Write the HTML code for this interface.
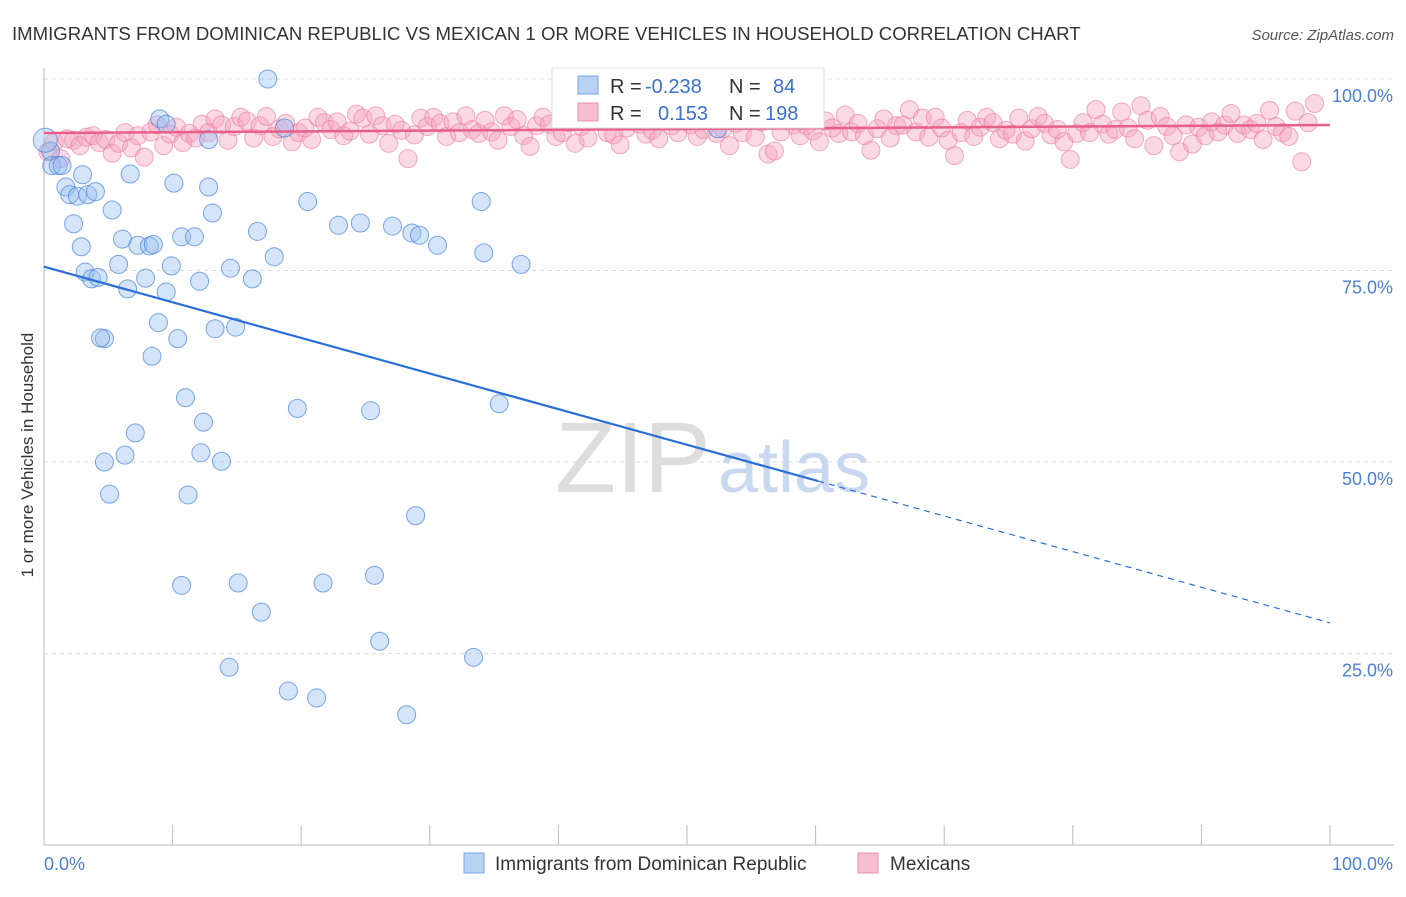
<!DOCTYPE html>
<html><head><meta charset="utf-8"><style>
body{margin:0;background:#fff;font-family:"Liberation Sans",sans-serif;}
svg text{font-family:"Liberation Sans",sans-serif;}
</style></head><body>
<svg id="chart" width="1406" height="892">
<text x="12" y="40" font-size="18.6" fill="#333">IMMIGRANTS FROM DOMINICAN REPUBLIC VS MEXICAN 1 OR MORE VEHICLES IN HOUSEHOLD CORRELATION CHART</text>
<text x="1394" y="40" font-size="15" fill="#555" text-anchor="end" font-style="italic">Source: ZipAtlas.com</text>
<text transform="translate(33,455) rotate(-90)" font-size="17" fill="#333" text-anchor="middle">1 or more Vehicles in Household</text>
<g id="grid"></g>
<text x="555" y="492" font-size="100" fill="#ddd" font-family="Liberation Serif">ZIP</text>
<text x="718" y="492" font-size="72" fill="#c8d8f0">atlas</text>
<g id="pts"></g>
<g id="lines"></g>
<g>
<rect x="552" y="68" width="272" height="60" fill="#fff" stroke="#ddd"/>
<rect x="578" y="76" width="20" height="18" fill="#b8d2f4" stroke="#7aa6e6"/>
<text x="610" y="93" font-size="20" fill="#333">R =</text>
<text x="645" y="93" font-size="20" fill="#3a70d0">-0.238</text>
<text x="729" y="93" font-size="20" fill="#333">N =</text>
<text x="773" y="93" font-size="20" fill="#3a70d0">84</text>
<rect x="578" y="103" width="20" height="18" fill="#f7bdd0" stroke="#ea8eae"/>
<text x="610" y="120" font-size="20" fill="#333">R =</text>
<text x="658" y="120" font-size="20" fill="#3a70d0">0.153</text>
<text x="729" y="120" font-size="20" fill="#333">N =</text>
<text x="765" y="120" font-size="20" fill="#3a70d0">198</text>
</g>
<g>
<rect x="464" y="853" width="20" height="20" fill="#b8d2f4" stroke="#7aa6e6"/>
<text x="495" y="870" font-size="19" fill="#333">Immigrants from Dominican Republic</text>
<rect x="858" y="853" width="20" height="20" fill="#f7bdd0" stroke="#ea8eae"/>
<text x="890" y="870" font-size="19" fill="#333">Mexicans</text>
</g>
</svg>
<script>
const yTicks=[100,75,50,25];
const yTickLabels=["100.0%","75.0%","50.0%","25.0%"];
const xEndLabels=["0.0%","100.0%"];
const blueX=[0.5,0.6,1.1,1.4,0.1,1.7,2.0,2.6,3.4,4.0,2.3,2.9,3.2,3.7,4.7,4.4,5.3,5.8,6.1,6.5,6.7,7.3,7.9,8.2,8.5,8.4,8.9,9.0,9.5,9.9,10.1,10.4,10.7,9.5,11.7,12.1,12.8,13.1,13.3,14.5,14.9,16.2,16.6,17.9,17.4,18.7,19.7,20.5,22.9,24.6,27.1,28.6,29.2,30.6,34.0,34.2,37.1,35.4,11.0,12.4,7.1,4.7,6.3,12.2,13.8,5.1,11.2,28.9,10.7,15.1,21.7,25.7,16.9,26.1,33.4,14.4,19.0,21.2,28.2,25.4,52.4,12.8,3.0,4.2];
const blueY=[90.6,88.7,88.7,88.7,92,85.9,84.9,84.7,84.9,85.3,81.1,78.1,74.8,73.9,66.1,66.2,82.9,75.8,79.1,72.6,87.6,78.3,74.0,78.2,78.4,63.8,68.2,94.8,94.1,75.6,86.4,66.1,79.4,72.2,79.4,73.6,85.9,82.5,67.4,75.3,67.6,73.9,80.1,76.8,100.0,93.6,57.0,84.0,80.9,81.2,80.8,79.9,79.6,78.3,84.0,77.3,75.8,57.6,58.4,55.2,53.8,50.0,50.9,51.2,50.1,45.8,45.7,43.0,33.9,34.2,34.2,35.2,30.4,26.6,24.5,23.2,20.1,19.2,17.0,56.7,93.5,92.1,87.5,74.1];
const pinkX=[0.3,0.8,1.3,1.8,2.3,2.8,3.3,3.8,4.3,4.8,5.3,5.8,6.3,6.8,7.3,7.8,8.3,8.8,9.3,9.8,
10.3,10.8,11.3,11.8,12.3,12.8,13.3,13.8,14.3,14.8,15.3,15.8,16.3,16.8,17.3,17.8,18.3,18.8,19.3,19.8,
20.3,20.8,21.3,21.8,22.3,22.8,23.3,23.8,24.3,24.8,25.3,25.8,26.3,26.8,27.3,27.8,28.3,28.8,29.3,29.8,
30.3,30.8,31.3,31.8,32.3,32.8,33.3,33.8,34.3,34.8,35.3,35.8,36.3,36.8,37.3,37.8,38.3,38.8,39.3,39.8,
40.3,40.8,41.3,41.8,42.3,42.8,43.3,43.8,44.3,44.8,45.3,45.8,46.3,46.8,47.3,47.8,48.3,48.8,49.3,49.8,
50.3,50.8,51.3,51.8,52.3,52.8,53.3,53.8,54.3,54.8,55.3,55.8,56.3,56.8,57.3,57.8,58.3,58.8,59.3,59.8,
60.3,60.8,61.3,61.8,62.3,62.8,63.3,63.8,64.3,64.8,65.3,65.8,66.3,66.8,67.3,67.8,68.3,68.8,69.3,69.8,
70.3,70.8,71.3,71.8,72.3,72.8,73.3,73.8,74.3,74.8,75.3,75.8,76.3,76.8,77.3,77.8,78.3,78.8,79.3,79.8,
80.3,80.8,81.3,81.8,82.3,82.8,83.3,83.8,84.3,84.8,85.3,85.8,86.3,86.8,87.3,87.8,88.3,88.8,89.3,89.8,
90.3,90.8,91.3,91.8,92.3,92.8,93.3,93.8,94.3,94.8,95.3,95.8,96.3,96.8,97.3,97.8,98.3,98.8];
const pinkY=[90.5,91.8,89.6,92.2,92.0,91.3,92.4,92.6,91.7,92.1,90.3,91.6,93.0,91.0,92.6,89.8,93.1,94.0,91.3,92.8,
93.7,91.7,92.9,92.3,94.1,93.0,94.8,94.0,92.0,93.8,95.0,94.5,92.3,93.9,95.1,92.5,93.5,94.2,91.8,93.0,
93.6,92.1,95.0,94.3,93.4,94.4,92.6,93.2,95.4,94.9,92.8,95.2,93.9,91.6,94.1,93.3,89.6,92.7,94.9,93.8,
95.0,94.2,92.5,94.4,93.0,95.2,93.4,92.9,94.6,93.1,92.0,95.2,93.8,94.7,92.6,91.2,93.9,95.0,94.1,92.5,
93.0,94.3,91.6,93.8,92.3,95.1,94.5,93.0,92.7,91.4,93.6,95.0,94.1,92.8,93.3,92.2,94.6,93.9,93.0,95.1,
94.0,92.5,93.4,94.8,92.9,93.5,91.3,94.2,93.0,95.0,92.4,94.4,90.2,90.6,93.1,95.0,94.0,92.6,93.9,93.2,
91.8,94.5,93.6,92.9,95.3,93.1,94.2,92.6,90.7,93.5,94.8,92.3,93.9,94.0,96.0,93.1,94.9,92.4,95.0,93.6,
92.0,90.0,93.0,94.6,92.5,93.7,95.0,94.3,92.2,93.3,92.8,94.9,91.9,93.5,95.1,94.2,92.7,93.4,91.8,89.5,
92.9,94.3,93.0,96.0,94.1,92.8,93.4,95.7,93.6,92.2,96.5,94.6,91.3,95.1,93.8,92.6,90.5,94.0,91.5,93.7,
92.6,94.4,93.1,94.0,95.5,92.9,94.0,93.4,94.2,92.1,95.9,93.8,93.0,92.5,95.8,89.2,94.3,96.8];
const X0=44,X1=1330,Y0=845,PX=(X1-X0)/100,PY=7.66;
const sx=v=>X0+v*PX, sy=v=>Y0-v*PY;
const NS="http://www.w3.org/2000/svg";
function mk(t,a,p){const e=document.createElementNS(NS,t);for(const k in a)e.setAttribute(k,a[k]);p.appendChild(e);return e;}
const grid=document.getElementById('grid');
yTicks.forEach((v,i)=>{
 const l=mk('line',{x1:X0,x2:1394,y1:sy(v),y2:sy(v),stroke:'#ddd','stroke-dasharray':'4,4'},grid);
 
 
 const t=mk('text',{x:1393,y:sy(v)+23,'font-size':18,fill:'#4a7fd4','text-anchor':'end'},grid);
 t.textContent=yTickLabels[i];
 
 
});
const ax=mk('line',{x1:X0,x2:X0,y1:68,y2:Y0,stroke:'#bbb'},grid);


const bx=mk('line',{x1:X0,x2:1394,y1:Y0,y2:Y0,stroke:'#bbb'},grid);


for(let i=1;i<=10;i++){
 const tk=mk('line',{x1:sx(i*10),x2:sx(i*10),y1:825,y2:Y0,stroke:'#bbb'},grid);
 
 
}
[[0,'start',X0],[1,'end',1393]].forEach(([i,a,x])=>{
 const t=mk('text',{x:x,y:870,'font-size':18,fill:'#4a7fd4','text-anchor':a},grid);
 t.textContent=xEndLabels[i];
 
 
});
const pts=document.getElementById('pts');
const nP=Math.min(pinkX.length,pinkY.length);
for(let i=0;i<nP;i++){
 const c=mk('circle',{cx:sx(pinkX[i]),cy:sy(pinkY[i]),r:9,fill:'rgba(245,160,188,0.4)',stroke:'rgba(232,120,160,0.6)'},pts);
 
 
}
const nB=Math.min(blueX.length,blueY.length);
for(let i=0;i<nB;i++){
 const c=mk('circle',{cx:sx(blueX[i]),cy:sy(blueY[i]),r:i==4?12:9,fill:'rgba(150,190,240,0.4)',stroke:'rgba(70,130,220,0.7)'},pts);
 
 
}
const lines=document.getElementById('lines');
const bA=75.5,bB=-0.465,pA=92.95,pB=0.0105;
let l1=mk('line',{x1:sx(0),y1:sy(bA),x2:sx(60.2),y2:sy(bA+bB*60.2),stroke:'#2a6fd6','stroke-width':2.2},lines);


let l2=mk('line',{x1:sx(60.2),y1:sy(bA+bB*60.2),x2:sx(100),y2:sy(bA+bB*100),stroke:'#2a6fd6','stroke-width':1.2,'stroke-dasharray':'6,5'},lines);


let l3=mk('line',{x1:sx(0),y1:sy(pA),x2:sx(100),y2:sy(pA+pB*100),stroke:'#e8608a','stroke-width':2.5},lines);


</script>
</body></html>
